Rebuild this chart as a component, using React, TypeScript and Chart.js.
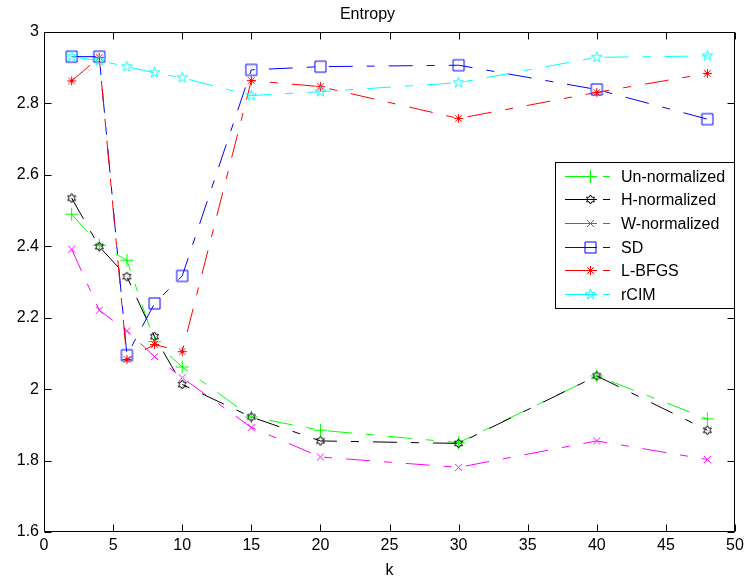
import React, { useEffect, useRef } from 'react';
import { Chart, registerables } from 'chart.js';

Chart.register(...registerables);

const kValues = [2, 4, 6, 8, 10, 15, 20, 30, 40, 48];
const unNormalized = [2.49, 2.403, 2.361, 2.133, 2.062, 1.922, 1.885, 1.85, 2.037, 1.917];
const hNormalized = [2.535, 2.399, 2.315, 2.147, 2.013, 1.922, 1.855, 1.848, 2.037, 1.885];
const wNormalized = [2.392, 2.221, 2.163, 2.091, 2.032, 1.893, 1.81, 1.781, 1.855, 1.803];
const sdValues = [2.931, 2.931, 2.095, 2.24, 2.317, 2.894, 2.903, 2.907, 2.839, 2.756];
const lbfgsValues = [2.863, 2.929, 2.083, 2.125, 2.105, 2.864, 2.847, 2.758, 2.831, 2.884];
const rcimValues = [2.931, 2.92, 2.903, 2.886, 2.872, 2.822, 2.833, 2.858, 2.929, 2.933];

const seriesNames = ['Un-normalized', 'H-normalized', 'W-normalized', 'SD', 'L-BFGS', 'rCIM'];
const seriesValues = [unNormalized, hNormalized, wNormalized, sdValues, lbfgsValues, rcimValues];
const seriesColors = ['#00ff00', '#000000', '#ff00ff', '#0000ff', '#ff0000', '#00ffff'];
const seriesMarkers = ['plus', 'hexagram', 'x', 'square', 'asterisk', 'pentagram'];

const xTicks = [0, 5, 10, 15, 20, 25, 30, 35, 40, 45, 50];
const yTicks = [1.6, 1.8, 2, 2.2, 2.4, 2.6, 2.8, 3];

const FONT = '"Liberation Sans", Arial, Helvetica, sans-serif';
const DASH = [24, 14, 8, 14];

function drawMarker(ctx: CanvasRenderingContext2D, kind: string, x: number, y: number, color: string) {
  ctx.save();
  ctx.strokeStyle = color;
  ctx.lineWidth = 1;
  ctx.setLineDash([]);
  ctx.beginPath();
  if (kind === 'plus') {
    const r = 6.5;
    ctx.moveTo(x - r, y); ctx.lineTo(x + r, y);
    ctx.moveTo(x, y - r); ctx.lineTo(x, y + r);
  } else if (kind === 'x') {
    const r = 3.5;
    ctx.moveTo(x - r, y - r); ctx.lineTo(x + r, y + r);
    ctx.moveTo(x - r, y + r); ctx.lineTo(x + r, y - r);
  } else if (kind === 'asterisk') {
    const r = 4.5;
    const d = r * 0.72;
    ctx.moveTo(x - r, y); ctx.lineTo(x + r, y);
    ctx.moveTo(x, y - r); ctx.lineTo(x, y + r);
    ctx.moveTo(x - d, y - d); ctx.lineTo(x + d, y + d);
    ctx.moveTo(x - d, y + d); ctx.lineTo(x + d, y - d);
  } else if (kind === 'square') {
    const h = 5.5;
    ctx.rect(x - h, y - h, 2 * h, 2 * h);
  } else if (kind === 'hexagram' || kind === 'pentagram') {
    const n = kind === 'hexagram' ? 6 : 5;
    const R = kind === 'hexagram' ? 4.6 : 5.6;
    const rIn = kind === 'hexagram' ? R / Math.sqrt(3) : R * 0.382;
    for (let i = 0; i < 2 * n; i++) {
      const a = -Math.PI / 2 + (i * Math.PI) / n;
      const rr = i % 2 === 0 ? R : rIn;
      const px = x + rr * Math.cos(a);
      const py = y + rr * Math.sin(a);
      if (i === 0) ctx.moveTo(px, py); else ctx.lineTo(px, py);
    }
    ctx.closePath();
  }
  ctx.stroke();
  ctx.restore();
}

function makeMarkerImage(kind: string, color: string): HTMLCanvasElement {
  const c = document.createElement('canvas');
  c.width = 17;
  c.height = 17;
  const ctx = c.getContext('2d')!;
  drawMarker(ctx, kind, 8.5, 8.5, color);
  return c;
}

const framePlugin = {
  id: 'matlabFrame',
  afterDraw(chart: any) {
    const ctx = chart.ctx as CanvasRenderingContext2D;
    const { left, right, top, bottom } = chart.chartArea;
    const xs = chart.scales.x;
    const ys = chart.scales.y;
    const L = Math.round(left) + 0.5;
    const R = Math.round(right) - 0.5;
    const T = Math.round(top) + 0.5;
    const B = Math.round(bottom) - 0.5;
    ctx.save();
    ctx.strokeStyle = '#000';
    ctx.lineWidth = 1;
    ctx.setLineDash([]);
    ctx.beginPath();
    ctx.rect(L, T, R - L, B - T);
    const tl = 7;
    xTicks.forEach((v) => {
      const px = Math.round(xs.getPixelForValue(v)) + 0.5;
      ctx.moveTo(px, B); ctx.lineTo(px, B - tl);
      ctx.moveTo(px, T); ctx.lineTo(px, T + tl);
    });
    yTicks.forEach((v) => {
      const py = Math.round(ys.getPixelForValue(v)) + 0.5;
      ctx.moveTo(L, py); ctx.lineTo(L + tl, py);
      ctx.moveTo(R, py); ctx.lineTo(R - tl, py);
    });
    ctx.stroke();

    // legend
    const bx = 555.5, by = 162.5, bw = 179, bh = 146;
    ctx.fillStyle = '#fff';
    ctx.fillRect(bx, by, bw, bh);
    ctx.strokeRect(bx, by, bw, bh);
    ctx.font = `16px ${FONT}`;
    ctx.textBaseline = 'middle';
    ctx.textAlign = 'left';
    seriesNames.forEach((name, i) => {
      const cy = Math.round(175.7 + i * 23.6) + 0.5;
      const color = seriesColors[i];
      ctx.strokeStyle = color;
      ctx.beginPath();
      ctx.moveTo(565, cy); ctx.lineTo(597, cy);
      ctx.moveTo(603, cy); ctx.lineTo(610, cy);
      ctx.stroke();
      drawMarker(ctx, seriesMarkers[i], 590.5, cy, color);
      ctx.fillStyle = '#000';
      ctx.fillText(name, 621, cy + 1);
    });
    ctx.restore();
  },
};

export default function App() {
  const canvasRef = useRef<HTMLCanvasElement | null>(null);

  useEffect(() => {
    if (!canvasRef.current) return;
    const datasets = seriesNames.map((name, i) => ({
      label: name,
      data: kValues.map((k, j) => ({ x: k, y: seriesValues[i][j] })),
      borderColor: seriesColors[i],
      backgroundColor: seriesColors[i],
      borderWidth: 1,
      borderDash: DASH,
      pointStyle: makeMarkerImage(seriesMarkers[i], seriesColors[i]),
      pointRadius: 5,
      pointHoverRadius: 5,
      tension: 0,
      fill: false,
      order: seriesNames.length - i,
    }));

    const tickFont = { family: FONT, size: 16 };
    const chart = new Chart(canvasRef.current, {
      type: 'line',
      data: { datasets },
      plugins: [framePlugin],
      options: {
        animation: false,
        responsive: true,
        maintainAspectRatio: false,
        events: [],
        layout: { padding: { left: 0, right: 13, top: 0, bottom: 0 } },
        plugins: {
          legend: { display: false },
          tooltip: { enabled: false },
          title: {
            display: true,
            text: 'Entropy',
            color: '#000',
            font: { family: FONT, size: 16, weight: 'normal' },
            padding: { top: 5, bottom: 7.8 },
          },
        },
        scales: {
          x: {
            type: 'linear',
            min: 0,
            max: 50,
            afterBuildTicks: (s: any) => { s.ticks = xTicks.map((v) => ({ value: v })); },
            afterFit: (s: any) => { s.height = 48; },
            ticks: { color: '#000', font: tickFont, padding: 4, maxRotation: 0, autoSkip: false },
            grid: { display: false, drawTicks: false },
            border: { display: false },
            title: { display: true, text: 'k', color: '#000', font: tickFont, padding: { top: 0, bottom: 0 } },
          },
          y: {
            type: 'linear',
            min: 1.6,
            max: 3,
            afterBuildTicks: (s: any) => { s.ticks = yTicks.map((v) => ({ value: v })); },
            afterFit: (s: any) => { s.width = 44; },
            ticks: {
              color: '#000',
              font: tickFont,
              padding: 5,
              autoSkip: false,
              callback: (v: any) => String(Number(Number(v).toFixed(1))),
            },
            grid: { display: false, drawTicks: false },
            border: { display: false },
          },
        },
      } as any,
    });
    return () => chart.destroy();
  }, []);

  return (
    <div style={{ position: 'absolute', left: 0, top: 0, width: 748, height: 580, background: '#fff' }}>
      <canvas ref={canvasRef} />
    </div>
  );
}
